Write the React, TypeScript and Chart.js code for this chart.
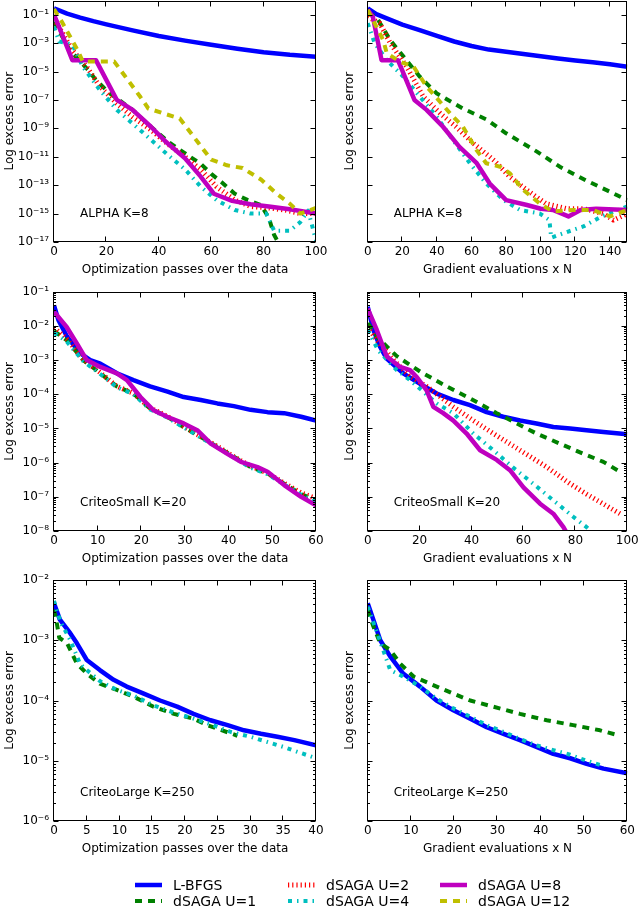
import React, { useEffect, useRef } from 'react';
import { Chart, registerables } from 'chart.js';

Chart.register(...registerables);
Chart.defaults.font.family = '"DejaVu Sans", sans-serif';
Chart.defaults.color = '#000';

type P = [number, number];

// ---------- ALPHA K=8, optimization passes ----------
const alphaPasses_LBFGS: P[] = [[0,2.8e-1],[5,1.2e-1],[10,6.3e-2],[15,3.5e-2],[20,2.1e-2],[30,7.9e-3],[40,3.2e-3],[50,1.5e-3],[60,7.6e-4],[70,4.0e-4],[80,2.3e-4],[90,1.5e-4],[100,1.1e-4]];
const alphaPasses_U1: P[] = [[0,3.2e-2],[3,3.2e-3],[6,3.2e-4],[13,1.3e-5],[16,2.5e-6],[21,3.2e-7],[30,2.0e-8],[37,1.3e-9],[44,1.0e-10],[51,1.3e-11],[56,3.2e-12],[60,6.3e-13],[64,1.6e-13],[69,2.5e-14],[74,8.9e-15],[79,4.0e-15],[82,5.0e-16],[84,3.2e-17],[87,3.2e-18],[100,3.2e-18]];
const alphaPasses_U2: P[] = [[0,5.0e-2],[3,6.3e-3],[7,3.2e-4],[12.5,2.2e-5],[17.5,8.9e-7],[24,5.6e-8],[30,6.3e-9],[37,7.9e-10],[43,8.9e-11],[50,1.0e-11],[56,1.3e-12],[62,7.9e-14],[69,8.9e-15],[75,3.2e-15],[82,2.5e-15],[88,1.8e-15],[94,1.0e-15],[100,1.0e-15]];
const alphaPasses_U4: P[] = [[0,1.4e-2],[2,1.3e-3],[7,7.9e-4],[11,2.2e-5],[17.5,5.0e-7],[24,2.0e-8],[30,2.2e-9],[37,1.6e-10],[43,1.6e-11],[50,1.3e-12],[56,7.9e-14],[62,8.9e-15],[69,1.8e-15],[75,1.0e-15],[81,1.0e-15],[84,6.3e-17],[90,6.3e-17],[94,2.5e-16],[97,1.6e-15],[100,1.3e-17]];
const alphaPasses_U8: P[] = [[0,1.0e-1],[2,1.3e-2],[7,6.3e-5],[16,6.3e-5],[24,1.0e-7],[30,2.0e-8],[37,1.3e-9],[43,1.0e-10],[50,7.9e-12],[56,4.0e-13],[61,2.5e-14],[68,7.9e-15],[75,4.5e-15],[82,3.2e-15],[90,2.0e-15],[100,1.0e-15]];
const alphaPasses_U12: P[] = [[0,2.5e-1],[3,3.2e-2],[9,3.2e-4],[11,5.0e-5],[23,5.0e-5],[27,5.0e-6],[33,1.6e-7],[36,2.5e-8],[42,1.1e-8],[48,5.0e-9],[55,1.0e-10],[60,6.3e-12],[66,2.5e-12],[72,1.6e-12],[79,2.5e-13],[85,2.5e-14],[90,5.0e-15],[94,1.0e-15],[100,2.5e-15]];

// ---------- ALPHA K=8, gradient evaluations ----------
const alphaGrad_LBFGS: P[] = [[0,2.8e-1],[5,1.1e-1],[11,5.5e-2],[20,2.0e-2],[30,8.3e-3],[40,3.2e-3],[50,1.3e-3],[60,6.3e-4],[70,3.5e-4],[80,2.5e-4],[90,1.7e-4],[100,1.2e-4],[110,8.3e-5],[120,6.0e-5],[130,4.5e-5],[140,3.2e-5],[150,2.2e-5]];
const alphaGrad_U1: P[] = [[0,1.3e-1],[5,7.1e-2],[13,1.6e-3],[19,2.0e-4],[30,4.5e-6],[40,2.8e-7],[55,2.5e-8],[69,4.0e-9],[80,4.5e-10],[98,2.2e-11],[111,2.0e-12],[126,2.2e-13],[138,4.5e-14],[150,8.9e-15]];
const alphaGrad_U2: P[] = [[0,7.1e-2],[7,2.5e-2],[13,1.0e-3],[22.5,2.2e-5],[32,1.8e-7],[42,1.1e-8],[51,1.3e-9],[61,8.9e-11],[73,5.6e-12],[82,4.0e-13],[92,4.5e-14],[103,5.0e-15],[115,2.2e-15],[125,2.2e-15],[136,1.0e-15],[142,3.5e-16],[150,1.0e-15]];
const alphaGrad_U4: P[] = [[0,2.5e-2],[4,1.0e-3],[11,6.3e-5],[20.5,4.5e-6],[30,1.8e-7],[40,6.3e-9],[49.5,1.4e-10],[59,3.5e-12],[68.5,1.3e-13],[78.5,8.9e-15],[88,1.8e-15],[99.5,1.0e-15],[105,3.5e-16],[106,2.0e-17],[115,5.0e-17],[125,1.3e-16],[135,6.3e-16],[150,3.2e-15]];
const alphaGrad_U8: P[] = [[0,2.2e-1],[3,7.1e-2],[8,6.3e-5],[17.5,6.3e-5],[27,1.0e-7],[34,2.0e-8],[43.5,1.3e-9],[53,5.0e-11],[63,3.5e-12],[70.5,1.3e-13],[80,8.9e-15],[92,4.0e-15],[100,2.2e-15],[107,1.8e-15],[116,6.3e-16],[123,1.8e-15],[132,2.2e-15],[150,1.8e-15]];
const alphaGrad_U12: P[] = [[0,2.2e-1],[9,1.6e-3],[11,2.0e-4],[18.5,5.0e-5],[26.5,2.2e-5],[34,8.9e-7],[49.5,6.3e-9],[55,1.3e-9],[63,2.8e-11],[68.5,3.5e-12],[76.5,2.0e-12],[82,7.1e-13],[90,4.5e-14],[99.5,5.0e-15],[107,1.4e-15],[119,1.8e-15],[130,1.8e-15],[140,6.3e-16],[150,1.8e-15]];

// ---------- CriteoSmall K=20, optimization passes ----------
const smallPasses_LBFGS: P[] = [[0,4.0e-2],[1,1.5e-2],[3,4.8e-3],[6,1.6e-3],[8.3,1.0e-3],[10.6,7.9e-4],[14.4,4.1e-4],[18.2,2.6e-4],[22,1.7e-4],[26,1.2e-4],[29.7,8.3e-5],[33.6,6.8e-5],[37.4,5.4e-5],[41.2,4.5e-5],[45,3.5e-5],[48.9,3.0e-5],[52.7,2.8e-5],[56.6,2.2e-5],[60,1.7e-5]];
const smallPasses_U1: P[] = [[0,7.1e-3],[2.9,3.8e-3],[6.7,1.0e-3],[10.6,4.1e-4],[14.4,1.7e-4],[18.2,1.05e-4],[22,3.8e-5],[25.9,2.2e-5],[29.7,1.1e-5],[33.6,5.6e-6],[37.4,2.9e-6],[41.2,1.5e-6],[45,7.4e-7],[48.9,4.8e-7],[52.7,2.4e-7],[56.6,1.2e-7],[60,7.9e-8]];
const smallPasses_U2: P[] = [[0,8.9e-3],[2.9,4.2e-3],[6.7,1.05e-3],[10.6,4.3e-4],[14.4,1.7e-4],[18.2,1.07e-4],[22,4.0e-5],[25.9,2.3e-5],[29.7,1.15e-5],[33.6,5.8e-6],[37.4,3.0e-6],[41.2,1.5e-6],[45,7.9e-7],[48.9,5.0e-7],[52.7,2.5e-7],[56.6,1.3e-7],[60,8.9e-8]];
const smallPasses_U4: P[] = [[0,6.3e-3],[2.9,3.5e-3],[6.7,9.3e-4],[10.6,3.9e-4],[14.4,1.6e-4],[18.2,1.0e-4],[22,3.6e-5],[25.9,2.1e-5],[29.7,1.07e-5],[33.6,5.4e-6],[37.4,2.8e-6],[41.2,1.4e-6],[45,7.1e-7],[48.9,4.6e-7],[52.7,2.3e-7],[56.6,1.15e-7],[60,7.1e-8]];
const smallPasses_U8: P[] = [[0,2.6e-2],[2.9,9.3e-3],[5.2,3.1e-3],[7.5,1.0e-3],[10.6,6.3e-4],[14.4,4.1e-4],[16.7,2.6e-4],[19.8,8.3e-5],[22.8,3.4e-5],[25.9,2.2e-5],[29.7,1.4e-5],[32.8,8.9e-6],[35.9,3.6e-6],[39.7,1.8e-6],[42.8,1.05e-6],[46.6,7.4e-7],[48.9,5.4e-7],[52.7,2.2e-7],[56.6,1.0e-7],[60,5.6e-8]];

// ---------- CriteoSmall K=20, gradient evaluations ----------
const smallGrad_LBFGS: P[] = [[0,3.6e-2],[2.2,7.6e-3],[4.7,2.5e-3],[7.3,1.1e-3],[13.7,4.1e-4],[20.2,2.0e-4],[26.6,1.05e-4],[33,6.8e-5],[39.4,4.8e-5],[45.8,3.0e-5],[52.2,2.2e-5],[58.7,1.7e-5],[65,1.4e-5],[71.5,1.1e-5],[78,1.0e-5],[84.3,8.9e-6],[90.8,7.9e-6],[100,6.8e-6]];
const smallGrad_U1: P[] = [[0,1.2e-2],[4.1,4.3e-3],[11.2,1.3e-3],[20.2,4.6e-4],[30.4,1.7e-4],[39.4,7.6e-5],[49.7,2.8e-5],[57.4,1.4e-5],[65,7.1e-6],[74,3.6e-6],[81.8,2.0e-6],[90.8,1.05e-6],[97.2,5.4e-7]];
const smallGrad_U2: P[] = [[0,9.3e-3],[3.5,3.8e-3],[10,1.0e-3],[16,3.5e-4],[22.7,1.7e-4],[33,4.3e-5],[40.7,1.7e-5],[48.4,7.1e-6],[58.7,2.3e-6],[69,7.4e-7],[78,2.4e-7],[84.3,1.2e-7],[97.2,3.2e-8]];
const smallGrad_U4: P[] = [[0,7.6e-3],[4.1,1.9e-3],[11.2,5.1e-4],[16.3,2.6e-4],[26.6,5.4e-5],[33,2.8e-5],[40.7,7.1e-6],[48.4,2.3e-6],[55.8,7.4e-7],[63.8,2.4e-7],[71.5,7.9e-8],[79.2,2.6e-8],[84.3,1.3e-8],[87,8.3e-9]];
const smallGrad_U8: P[] = [[0,3.2e-2],[3.5,7.6e-3],[7.3,1.3e-3],[12.5,6.3e-4],[16.3,5.1e-4],[18.9,3.2e-4],[22.7,1.3e-4],[25.3,4.3e-5],[29.1,2.8e-5],[33,1.7e-5],[38.1,7.1e-6],[43.3,2.3e-6],[49.7,1.2e-6],[54.8,6.0e-7],[60,1.9e-7],[66.4,6.3e-8],[71.5,3.2e-8],[75.4,1.3e-8],[77,7.9e-9]];

// ---------- CriteoLarge K=250, optimization passes ----------
const largePasses_LBFGS: P[] = [[0,4.1e-3],[0.9,2.2e-3],[2.5,1.3e-3],[3.5,8.9e-4],[5,4.7e-4],[7,3.2e-4],[9.1,2.2e-4],[11.1,1.7e-4],[13.7,1.3e-4],[16.2,1.0e-4],[18.8,7.9e-5],[21.3,6.0e-5],[23.9,4.7e-5],[26.5,3.9e-5],[29,3.2e-5],[31.6,2.8e-5],[34.1,2.5e-5],[36.7,2.2e-5],[40,1.8e-5]];
const largePasses_U1: P[] = [[0,3.2e-3],[0.4,2.0e-3],[0.8,1.1e-3],[2,8.9e-4],[3.5,4.1e-4],[5,2.8e-4],[7,1.9e-4],[9.6,1.5e-4],[12.2,1.15e-4],[15.2,7.9e-5],[18.3,6.0e-5],[21.3,5.0e-5],[23.4,3.9e-5],[28,2.6e-5]];
const largePasses_U4: P[] = [[0,4.5e-3],[1,2.0e-3],[2.5,1.0e-3],[4,4.0e-4],[5,3.2e-4],[7,2.1e-4],[9.6,1.5e-4],[12.2,1.2e-4],[15.2,8.3e-5],[18.3,6.3e-5],[21.3,5.0e-5],[24,4.0e-5],[27,3.0e-5],[30,2.5e-5],[35,1.7e-5],[40,1.1e-5]];

// ---------- CriteoLarge K=250, gradient evaluations ----------
const largeGrad_LBFGS: P[] = [[0,4.1e-3],[1.3,2.2e-3],[2.9,1.0e-3],[5.2,5.4e-4],[8.2,2.8e-4],[12.1,1.7e-4],[15.9,1.0e-4],[19.8,6.9e-5],[23.7,5.0e-5],[27.5,3.6e-5],[31.4,2.8e-5],[35.2,2.2e-5],[39,1.7e-5],[42.9,1.3e-5],[46.8,1.1e-5],[50.6,8.9e-6],[54.5,7.4e-6],[60,6.2e-6]];
const largeGrad_U1: P[] = [[0,3.2e-3],[1.3,1.7e-3],[2.9,8.9e-4],[5.2,6.9e-4],[7.5,4.1e-4],[10.6,2.5e-4],[14.4,1.9e-4],[19.8,1.3e-4],[23.7,1.0e-4],[29,7.9e-5],[35.2,6.0e-5],[41.4,4.7e-5],[47.5,3.9e-5],[53.7,3.2e-5],[58.3,2.6e-5]];
const largeGrad_U4: P[] = [[0,3.6e-3],[2.5,1.15e-3],[5.2,3.2e-4],[8.2,2.5e-4],[12.1,1.7e-4],[15.9,1.07e-4],[19.8,7.4e-5],[23.7,5.4e-5],[27.5,3.9e-5],[31.4,3.0e-5],[35.2,2.3e-5],[39,1.8e-5],[42.9,1.5e-5],[46.8,1.26e-5],[50.6,1.0e-5],[53.7,8.5e-6]];

// ---------- ticks ----------
const alphaPassesXTicks = [0, 20, 40, 60, 80, 100];
const alphaGradXTicks = [0, 20, 40, 60, 80, 100, 120, 140];
const smallPassesXTicks = [0, 10, 20, 30, 40, 50, 60];
const smallGradXTicks = [0, 20, 40, 60, 80, 100];
const largePassesXTicks = [0, 5, 10, 15, 20, 25, 30, 35, 40];
const largeGradXTicks = [0, 10, 20, 30, 40, 50, 60];

const alphaYTicks = [1e-1, 1e-3, 1e-5, 1e-7, 1e-9, 1e-11, 1e-13, 1e-15, 1e-17];
const alphaYTickLabels = ['10⁻¹', '10⁻³', '10⁻⁵', '10⁻⁷', '10⁻⁹', '10⁻¹¹', '10⁻¹³', '10⁻¹⁵', '10⁻¹⁷'];
const smallYTicks = [1e-1, 1e-2, 1e-3, 1e-4, 1e-5, 1e-6, 1e-7, 1e-8];
const smallYTickLabels = ['10⁻¹', '10⁻²', '10⁻³', '10⁻⁴', '10⁻⁵', '10⁻⁶', '10⁻⁷', '10⁻⁸'];
const largeYTicks = [1e-2, 1e-3, 1e-4, 1e-5, 1e-6];
const largeYTickLabels = ['10⁻²', '10⁻³', '10⁻⁴', '10⁻⁵', '10⁻⁶'];

// ---------- series styles ----------
const SERIES = [
  { label: 'L-BFGS', color: '#0000ff', dash: [] as number[], width: 4.5 },
  { label: 'dSAGA U=1', color: '#008000', dash: [7, 6], width: 4 },
  { label: 'dSAGA U=2', color: '#ff0000', dash: [1.2, 3], width: 5 },
  { label: 'dSAGA U=4', color: '#00bfbf', dash: [4, 5, 1.5, 5], width: 4 },
  { label: 'dSAGA U=8', color: '#bf00bf', dash: [] as number[], width: 4.5 },
  { label: 'dSAGA U=12', color: '#bfbf00', dash: [7, 6], width: 4 },
];

const PASSES = 'Optimization passes over the data';
const GRAD = 'Gradient evaluations x N';

type Panel = {
  key: string; left: number; top: number; width: number; height: number;
  area: { l: number; t: number; r: number; b: number };
  xMin: number; xMax: number; xTicks: number[];
  yMin: number; yMax: number; yTicks: number[]; yLabels: string[]; yMinor: boolean;
  showYLabels: boolean; yTitlePad: number; xTitle: string; note: string;
  series: (P[] | null)[];
};

const PANELS: Panel[] = [
  { key: 'a1', left: 0, top: 0, width: 340, height: 282, area: { l: 54, t: 0.5, r: 316, b: 242 },
    xMin: 0, xMax: 100, xTicks: alphaPassesXTicks, yMin: 1e-17, yMax: 1, yTicks: alphaYTicks, yLabels: alphaYTickLabels, yMinor: false,
    showYLabels: true, yTitlePad: 2.8, xTitle: PASSES, note: 'ALPHA K=8',
    series: [alphaPasses_LBFGS, alphaPasses_U1, alphaPasses_U2, alphaPasses_U4, alphaPasses_U8, alphaPasses_U12] },
  { key: 'a2', left: 320, top: 0, width: 320, height: 282, area: { l: 367.7, t: 0.5, r: 627.3, b: 242 },
    xMin: 0, xMax: 150, xTicks: alphaGradXTicks, yMin: 1e-17, yMax: 1, yTicks: alphaYTicks, yLabels: alphaYTickLabels, yMinor: false,
    showYLabels: false, yTitlePad: 22.8, xTitle: GRAD, note: 'ALPHA K=8',
    series: [alphaGrad_LBFGS, alphaGrad_U1, alphaGrad_U2, alphaGrad_U4, alphaGrad_U8, alphaGrad_U12] },
  { key: 's1', left: 0, top: 280, width: 340, height: 290.7, area: { l: 54, t: 291.7, r: 316, b: 530.7 },
    xMin: 0, xMax: 60, xTicks: smallPassesXTicks, yMin: 1e-8, yMax: 1e-1, yTicks: smallYTicks, yLabels: smallYTickLabels, yMinor: true,
    showYLabels: true, yTitlePad: 2.8, xTitle: PASSES, note: 'CriteoSmall K=20',
    series: [smallPasses_LBFGS, smallPasses_U1, smallPasses_U2, smallPasses_U4, smallPasses_U8, null] },
  { key: 's2', left: 320, top: 280, width: 320, height: 290.7, area: { l: 367.7, t: 291.7, r: 627.3, b: 530.7 },
    xMin: 0, xMax: 100, xTicks: smallGradXTicks, yMin: 1e-8, yMax: 1e-1, yTicks: smallYTicks, yLabels: smallYTickLabels, yMinor: true,
    showYLabels: false, yTitlePad: 22.8, xTitle: GRAD, note: 'CriteoSmall K=20',
    series: [smallGrad_LBFGS, smallGrad_U1, smallGrad_U2, smallGrad_U4, smallGrad_U8, null] },
  { key: 'l1', left: 0, top: 565, width: 340, height: 295.7, area: { l: 54, t: 580, r: 316, b: 820.7 },
    xMin: 0, xMax: 40, xTicks: largePassesXTicks, yMin: 1e-6, yMax: 1e-2, yTicks: largeYTicks, yLabels: largeYTickLabels, yMinor: true,
    showYLabels: true, yTitlePad: 2.8, xTitle: PASSES, note: 'CriteoLarge K=250',
    series: [largePasses_LBFGS, largePasses_U1, null, largePasses_U4, null, null] },
  { key: 'l2', left: 320, top: 565, width: 320, height: 295.7, area: { l: 367.7, t: 580, r: 627.3, b: 820.7 },
    xMin: 0, xMax: 60, xTicks: largeGradXTicks, yMin: 1e-6, yMax: 1e-2, yTicks: largeYTicks, yLabels: largeYTickLabels, yMinor: true,
    showYLabels: false, yTitlePad: 22.8, xTitle: GRAD, note: 'CriteoLarge K=250',
    series: [largeGrad_LBFGS, largeGrad_U1, null, largeGrad_U4, null, null] },
];

function minorTicks(p: Panel): number[] {
  const out: number[] = [];
  if (!p.yMinor) return out;
  const lo = Math.floor(Math.log10(p.yMin));
  const hi = Math.ceil(Math.log10(p.yMax));
  for (let k = lo; k < hi; k++) {
    for (let m = 2; m <= 9; m++) {
      const v = m * Math.pow(10, k);
      if (v > p.yMin && v < p.yMax) out.push(v);
    }
  }
  return out;
}

function framePlugin(p: Panel) {
  const minors = minorTicks(p);
  return {
    id: 'frame_' + p.key,
    afterDatasetsDraw(chart: any) {
      const { ctx, chartArea: a, scales } = chart;
      ctx.save();
      ctx.strokeStyle = '#000';
      ctx.lineWidth = 1;
      const L = Math.round(a.left) - 0.5, R = Math.round(a.right) - 0.5;
      const T = Math.round(a.top) + 0.5, B = Math.round(a.bottom) - 0.5;
      ctx.strokeRect(L, T, R - L, B - T);
      ctx.beginPath();
      const y = scales.y, x = scales.x;
      const yTick = (v: number, len: number) => {
        const py = Math.round(y.getPixelForValue(v)) + 0.5;
        ctx.moveTo(L, py); ctx.lineTo(L + len, py);
        ctx.moveTo(R, py); ctx.lineTo(R - len, py);
      };
      p.yTicks.forEach((v) => yTick(v, 5));
      minors.forEach((v) => yTick(v, 2.5));
      p.xTicks.forEach((v) => {
        const px = Math.round(x.getPixelForValue(v)) - 0.5;
        ctx.moveTo(px, B); ctx.lineTo(px, B - 5);
        ctx.moveTo(px, T); ctx.lineTo(px, T + 5);
      });
      ctx.stroke();
      ctx.font = '12px "DejaVu Sans", sans-serif';
      ctx.fillStyle = '#000';
      ctx.textAlign = 'left';
      ctx.textBaseline = 'middle';
      ctx.fillText(p.note, a.left + 26, a.bottom - 28.5);
      ctx.restore();
    },
  };
}

function PanelChart({ p }: { p: Panel }) {
  const ref = useRef<HTMLCanvasElement>(null);
  useEffect(() => {
    const datasets: any[] = [];
    p.series.forEach((pts, i) => {
      if (!pts) return;
      const s = SERIES[i];
      datasets.push({
        label: s.label,
        data: pts.map(([x, y]) => ({ x, y })),
        borderColor: s.color,
        backgroundColor: s.color,
        borderWidth: s.width,
        borderDash: s.dash,
        borderCapStyle: 'butt',
        borderJoinStyle: 'round',
        pointRadius: 0,
        tension: 0,
        fill: false,
        clip: 0,
        order: 10 - i,
      });
    });
    const chart = new Chart(ref.current as HTMLCanvasElement, {
      type: 'line',
      data: { datasets },
      options: {
        responsive: false,
        animation: false,
        events: [],
        layout: { padding: { left: 0, top: p.area.t - p.top, right: p.left + p.width - p.area.r, bottom: 0 } },
        plugins: { legend: { display: false }, tooltip: { enabled: false } },
        scales: {
          x: {
            type: 'linear', min: p.xMin, max: p.xMax,
            grid: { display: false, drawTicks: false },
            border: { display: false },
            ticks: { padding: 3, font: { size: 12 }, color: '#000', autoSkip: false, maxRotation: 0, callback: (v: any) => String(v) },
            title: { display: true, text: p.xTitle, font: { size: 12 }, color: '#000', padding: { top: 0, bottom: 4.8 } },
            afterBuildTicks: (s: any) => { s.ticks = p.xTicks.map((v) => ({ value: v })); },
            afterFit: (s: any) => {
              s.height = p.top + p.height - p.area.b;
              s.paddingLeft = 0; s.paddingRight = 0; s.paddingTop = 0; s.paddingBottom = 0;
            },
          },
          y: {
            type: 'logarithmic', min: p.yMin, max: p.yMax,
            grid: { display: false, drawTicks: false },
            border: { display: false },
            ticks: { display: p.showYLabels, padding: 5, font: { size: 12 }, color: '#000', autoSkip: false, callback: (_v: any, i: number) => p.yLabels[i] },
            title: { display: true, text: 'Log excess error', font: { size: 12 }, color: '#000', padding: { top: p.yTitlePad, bottom: 0 } },
            afterBuildTicks: (s: any) => { s.ticks = p.yTicks.map((v) => ({ value: v })); },
            afterFit: (s: any) => {
              s.width = p.area.l - p.left;
              s.paddingLeft = 0; s.paddingRight = 0; s.paddingTop = 0; s.paddingBottom = 0;
            },
          },
        },
      } as any,
      plugins: [framePlugin(p)],
    });
    return () => chart.destroy();
  }, [p]);
  return (
    <canvas
      ref={ref}
      width={p.width}
      height={Math.round(p.height)}
      style={{ position: 'absolute', left: p.left, top: p.top, width: p.width, height: Math.round(p.height) }}
    />
  );
}

const LEGEND_TEXT_X = [173, 326, 478];
const LEGEND_ROW_Y = [885, 901];

function Legend() {
  return (
    <>
      {SERIES.map((s, i) => {
        const col = Math.floor(i / 2);
        const row = i % 2;
        const tx = LEGEND_TEXT_X[col];
        const cy = LEGEND_ROW_Y[row];
        return (
          <React.Fragment key={s.label}>
            <svg style={{ position: 'absolute', left: tx - 38, top: cy - 5, width: 27, height: 10 }} width={27} height={10}>
              <line x1={0} y1={5} x2={27} y2={5} stroke={s.color} strokeWidth={s.width}
                strokeDasharray={s.dash.length ? s.dash.join(' ') : undefined} />
            </svg>
            <span style={{ position: 'absolute', left: tx, top: cy - 9, fontSize: 14, lineHeight: '18px', whiteSpace: 'nowrap', color: '#000' }}>
              {s.label}
            </span>
          </React.Fragment>
        );
      })}
    </>
  );
}

export default function App() {
  return (
    <div style={{ position: 'absolute', left: 0, top: 0, width: 640, height: 907, background: '#fff', fontFamily: '"DejaVu Sans", sans-serif', overflow: 'hidden' }}>
      {PANELS.map((p) => <PanelChart key={p.key} p={p} />)}
      <Legend />
    </div>
  );
}
